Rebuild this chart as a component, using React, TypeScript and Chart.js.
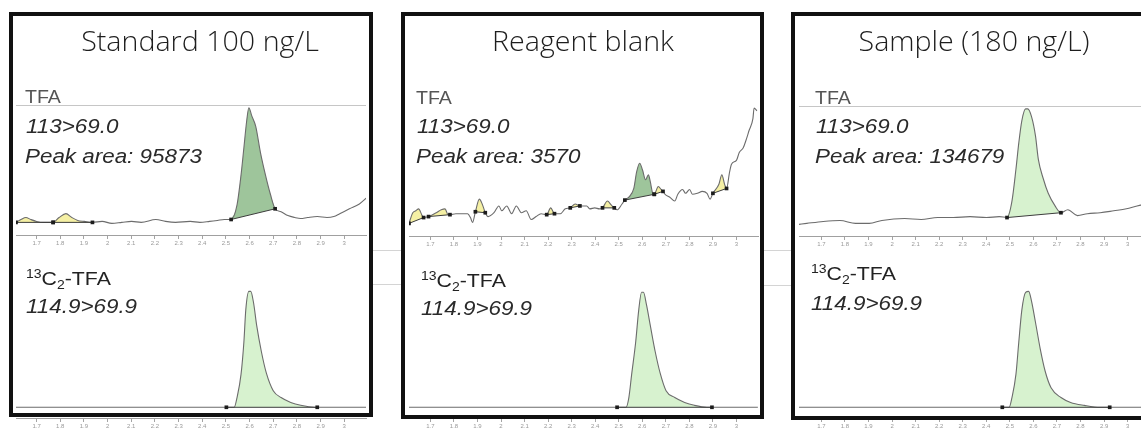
import React, { useEffect, useRef } from "react";
import { Chart, registerables } from "chart.js";

Chart.register(...registerables);

// ---------- data ----------
const tickValues = [1.7, 1.8, 1.9, 2.0, 2.1, 2.2, 2.3, 2.4, 2.5, 2.6, 2.7, 2.8, 2.9, 3.0];
const tickLabels = ["1.7", "1.8", "1.9", "2", "2.1", "2.2", "2.3", "2.4", "2.5", "2.6", "2.7", "2.8", "2.9", "3"];

const panelTitles = ["Standard 100 ng/L", "Reagent blank", "Sample (180 ng/L)"];
const analyteName = "TFA";
const analyteTransition = "113>69.0";
const istdTransition = "114.9>69.9";
const peakAreas = [95873, 3570, 134679];

type Peak = [number, number, string]; // [start min, end min, kind]

// Standard 100 ng/L – TFA 113>69.0
const stdTfaTime = [1.613, 1.634, 1.655, 1.675, 1.700, 1.729, 1.770, 1.795, 1.824, 1.849, 1.874, 1.902, 1.936, 1.977, 2.018, 2.060, 2.101, 2.142, 2.204, 2.245, 2.287, 2.349, 2.390, 2.431, 2.464, 2.493, 2.522, 2.547, 2.564, 2.576, 2.588, 2.597, 2.609, 2.626, 2.646, 2.667, 2.688, 2.708, 2.733, 2.762, 2.791, 2.816, 2.845, 2.886, 2.927, 2.956, 2.981, 3.022, 3.064, 3.093];
const stdTfaSignal = [13, 16, 18, 16, 14, 13, 13, 18, 22, 18, 15, 14, 13, 14, 12, 13, 14, 13, 16, 14, 13, 14, 13, 14, 15, 16, 16, 31, 62, 90, 118, 131, 123, 112, 85, 62, 42, 27, 24, 20, 18, 17, 18, 19, 18, 19, 22, 27, 32, 38];
const stdTfaPeaks: Peak[] = [[1.613, 1.770, "minor"], [1.770, 1.936, "minor"], [2.522, 2.708, "quant"]];

// Standard – 13C2-TFA 114.9>69.9
const stdIsTime = [1.613, 2.502, 2.535, 2.547, 2.564, 2.576, 2.584, 2.597, 2.605, 2.617, 2.630, 2.650, 2.671, 2.700, 2.733, 2.774, 2.816, 2.874, 2.886, 3.093];
const stdIsSignal = [0, 0, 0, 10, 34, 67, 100, 119, 119, 107, 84, 57, 35, 17, 10, 5, 2, 0, 0, 0];
const stdIsPeaks: Peak[] = [[2.502, 2.886, "light"]];

// Reagent blank – TFA
const blankTfaTime = [1.609, 1.625, 1.638, 1.650, 1.663, 1.671, 1.692, 1.725, 1.746, 1.762, 1.775, 1.783, 1.808, 1.837, 1.858, 1.870, 1.879, 1.891, 1.908, 1.920, 1.933, 1.945, 1.970, 1.991, 2.003, 2.024, 2.045, 2.065, 2.086, 2.107, 2.128, 2.149, 2.170, 2.194, 2.211, 2.227, 2.252, 2.273, 2.294, 2.315, 2.335, 2.364, 2.377, 2.398, 2.418, 2.431, 2.452, 2.468, 2.481, 2.493, 2.514, 2.526, 2.543, 2.564, 2.576, 2.589, 2.601, 2.614, 2.626, 2.634, 2.643, 2.651, 2.668, 2.680, 2.688, 2.697, 2.717, 2.738, 2.751, 2.771, 2.784, 2.801, 2.813, 2.834, 2.855, 2.875, 2.888, 2.900, 2.925, 2.938, 2.950, 2.958, 2.971, 2.979, 3.000, 3.012, 3.029, 3.041, 3.054, 3.070, 3.075, 3.087];
const blankTfaSignal = [13, 24, 26, 28, 22, 19, 20, 24, 27, 28, 22, 22, 23, 23, 23, 19, 14, 25, 38, 33, 24, 20, 24, 31, 26, 31, 23, 31, 24, 26, 17, 20, 23, 22, 29, 23, 23, 28, 29, 33, 31, 31, 28, 29, 28, 29, 36, 32, 29, 27, 33, 37, 40, 49, 66, 75, 68, 58, 63, 56, 45, 43, 51, 48, 46, 43, 40, 36, 43, 48, 44, 48, 43, 44, 46, 44, 38, 44, 53, 63, 53, 49, 66, 74, 78, 86, 91, 99, 109, 121, 132, 129];
const blankTfaPeaks: Peak[] = [[1.609, 1.671, "minor"], [1.692, 1.783, "minor"], [1.891, 1.933, "minor"], [2.194, 2.227, "minor"], [2.294, 2.335, "minor"], [2.431, 2.481, "minor"], [2.526, 2.651, "quant"], [2.651, 2.688, "minor"], [2.900, 2.958, "minor"]];

// Reagent blank – 13C2-TFA
const blankIsTime = [1.609, 2.493, 2.531, 2.543, 2.555, 2.572, 2.585, 2.597, 2.605, 2.618, 2.634, 2.655, 2.676, 2.701, 2.738, 2.780, 2.821, 2.875, 2.896, 3.091];
const blankIsSignal = [0, 0, 0, 10, 34, 67, 100, 118, 118, 105, 84, 57, 35, 17, 10, 5, 2, 0, 0, 0];
const blankIsPeaks: Peak[] = [[2.493, 2.896, "light"]];

// Sample – TFA
const sampleTfaTime = [1.605, 1.638, 1.708, 1.779, 1.845, 1.903, 1.957, 2.053, 2.123, 2.194, 2.260, 2.331, 2.401, 2.455, 2.488, 2.509, 2.526, 2.538, 2.551, 2.567, 2.576, 2.592, 2.609, 2.621, 2.642, 2.663, 2.692, 2.717, 2.746, 2.787, 2.829, 2.883, 2.941, 2.995, 3.040, 3.078];
const sampleTfaSignal = [12, 13, 15, 16, 13, 13, 16, 18, 17, 19, 19, 20, 19, 20, 19, 36, 69, 96, 119, 131, 131, 123, 103, 79, 59, 44, 31, 24, 27, 21, 23, 24, 26, 28, 31, 33];
const sampleTfaPeaks: Peak[] = [[2.488, 2.717, "light"]];

// Sample – 13C2-TFA
const sampleIsTime = [1.605, 2.468, 2.497, 2.509, 2.526, 2.538, 2.551, 2.567, 2.580, 2.592, 2.609, 2.629, 2.650, 2.675, 2.717, 2.758, 2.816, 2.883, 2.924, 3.078];
const sampleIsSignal = [0, 0, 0, 10, 34, 67, 100, 118, 119, 109, 87, 60, 37, 20, 10, 5, 2, 0, 0, 0];
const sampleIsPeaks: Peak[] = [[2.468, 2.924, "light"]];

// ---------- styling ----------
const fillColors: Record<string, string> = {
  minor: "#f5f0a4",
  quant: "#9ec59b",
  light: "#d7f2cf",
};
const TEXT_FONT = '"Liberation Sans", Arial, sans-serif';

const frameLinePlugin = {
  id: "frameLine",
  beforeDatasetsDraw(chart: any, _args: any, opts: any) {
    if (!opts || !opts.show) return;
    const { ctx, chartArea } = chart;
    ctx.save();
    ctx.strokeStyle = "#c6c6c6";
    ctx.lineWidth = 1;
    ctx.beginPath();
    ctx.moveTo(chartArea.left, chartArea.top + 0.5);
    ctx.lineTo(chartArea.right, chartArea.top + 0.5);
    ctx.stroke();
    ctx.restore();
  },
};

type ChromProps = {
  left: number;
  top: number;
  width: number;
  xMin: number;
  xMax: number;
  yMin: number;
  yMax: number;
  time: number[];
  signal: number[];
  peaks: Peak[];
  frame?: boolean;
};

const AXIS_H = 16;

function Chromatogram(p: ChromProps) {
  const ref = useRef<HTMLCanvasElement>(null);
  const height = p.yMax - p.yMin + AXIS_H;
  useEffect(() => {
    if (!ref.current) return;
    const trace = p.time.map((t, i) => ({ x: t, y: p.signal[i] }));
    const datasets: any[] = [];
    p.peaks.forEach(([s, e, kind]) => {
      const pts = trace.filter((pt) => pt.x >= s - 1e-9 && pt.x <= e + 1e-9);
      datasets.push({
        data: pts,
        fill: "shape",
        backgroundColor: fillColors[kind],
        borderColor: "rgba(0,0,0,0)",
        borderWidth: 1,
        pointRadius: 0,
        cubicInterpolationMode: "monotone",
        order: 6,
      });
      datasets.push({
        data: [pts[0], pts[pts.length - 1]],
        fill: false,
        borderColor: "#3c3c3c",
        borderWidth: 1,
        pointRadius: 2.6,
        pointStyle: "rect",
        pointBackgroundColor: "#1c1c1c",
        pointBorderColor: "#1c1c1c",
        pointBorderWidth: 0,
        order: 1,
      });
    });
    datasets.push({
      data: trace,
      fill: false,
      borderColor: "#6c6c6c",
      borderWidth: 1.1,
      pointRadius: 0,
      cubicInterpolationMode: "monotone",
      order: 3,
    });
    const chart = new Chart(ref.current, {
      type: "line",
      data: { datasets },
      plugins: [frameLinePlugin],
      options: {
        animation: false,
        responsive: false,
        devicePixelRatio: 1,
        events: [],
        layout: { padding: 0 },
        parsing: false,
        plugins: {
          legend: { display: false },
          tooltip: { enabled: false },
          frameLine: { show: !!p.frame },
        } as any,
        scales: {
          x: {
            type: "linear",
            min: p.xMin,
            max: p.xMax,
            afterBuildTicks: (scale: any) => {
              scale.ticks = tickValues.map((v) => ({ value: v }));
            },
            afterFit: (scale: any) => {
              scale.height = AXIS_H;
            },
            ticks: {
              autoSkip: false,
              maxRotation: 0,
              minRotation: 0,
              padding: 1,
              color: "#999999",
              font: { size: 6, family: TEXT_FONT },
              callback: (_v: any, i: number) => tickLabels[i],
            },
            grid: {
              drawOnChartArea: false,
              drawTicks: true,
              tickLength: 4,
              color: "#a4a4a4",
            },
            border: { display: true, color: "#a0a0a0", width: 1 },
          },
          y: { display: false, min: p.yMin, max: p.yMax },
        },
      } as any,
    });
    return () => chart.destroy();
  }, []);
  return (
    <canvas
      ref={ref}
      width={p.width}
      height={height}
      style={{ position: "absolute", left: p.left, top: p.top, width: p.width, height }}
    />
  );
}

function Txt(props: { x: number; base: number; size: number; italic?: boolean; color?: string; children: any }) {
  return (
    <div
      style={{
        position: "absolute",
        left: props.x,
        top: props.base - 0.8465 * props.size,
        fontFamily: TEXT_FONT,
        fontSize: props.size,
        lineHeight: 1,
        fontStyle: props.italic ? "italic" : "normal",
        color: props.color || "#2a2a2a",
        whiteSpace: "nowrap",
        transform: "scaleX(1.12)",
        transformOrigin: "left center",
      }}
    >
      {props.children}
    </div>
  );
}

function IstdLabel(props: { x: number; base: number }) {
  return (
    <Txt x={props.x} base={props.base} size={19} color="#222">
      <span style={{ fontSize: 12.5, position: "relative", top: -7 }}>13</span>C
      <span style={{ fontSize: 12.5, position: "relative", top: 4 }}>2</span>-{analyteName}
    </Txt>
  );
}

export default function App() {
  const upperY = { yMin: 0, yMax: 134 };
  const lowerY = { yMin: -11, yMax: 145 };
  const cols = [
    { left: 12, width: 358, xMin: 1.613, xMax: 3.092, upTop: 101, box: [9, 12, 364, 405], titleCx: 200, txt: 25, lowBase: [285, 313], upBase: 104 },
    { left: 405, width: 357, xMin: 1.609, xMax: 3.0916, upTop: 102, box: [401, 12, 363, 407], titleCx: 583, txt: 416, lowBase: [287, 315], upBase: 105 },
    { left: 795, width: 355, xMin: 1.605, xMax: 3.078, upTop: 102, box: [791, 12, 366, 408], titleCx: 974, txt: 815, lowBase: [280, 310], upBase: 105 },
  ];
  const upperData = [
    { time: stdTfaTime, signal: stdTfaSignal, peaks: stdTfaPeaks, frame: true },
    { time: blankTfaTime, signal: blankTfaSignal, peaks: blankTfaPeaks, frame: false },
    { time: sampleTfaTime, signal: sampleTfaSignal, peaks: sampleTfaPeaks, frame: true },
  ];
  const lowerData = [
    { time: stdIsTime, signal: stdIsSignal, peaks: stdIsPeaks },
    { time: blankIsTime, signal: blankIsSignal, peaks: blankIsPeaks },
    { time: sampleIsTime, signal: sampleIsSignal, peaks: sampleIsPeaks },
  ];
  const lowX = [26, 421, 811];
  const TITLE_SIZE = 27;

  return (
    <div
      style={{
        position: "absolute",
        left: 0,
        top: 0,
        width: 1141,
        height: 430,
        overflow: "hidden",
        background: "#ffffff",
      }}
    >
      {/* faint leftover frame lines between panels */}
      {[[373, 250, 28], [373, 284, 28], [764, 250, 27], [764, 285, 27]].map(([x, y, w], i) => (
        <div key={"g" + i} style={{ position: "absolute", left: x, top: y, width: w, height: 1, background: "#d4d4d4" }} />
      ))}

      {cols.map((c, i) => (
        <React.Fragment key={"c" + i}>
          <Chromatogram
            left={c.left}
            top={c.upTop}
            width={c.width}
            xMin={c.xMin}
            xMax={c.xMax}
            {...upperY}
            {...upperData[i]}
          />
          <Chromatogram
            left={c.left}
            top={262}
            width={c.width}
            xMin={c.xMin}
            xMax={c.xMax}
            {...lowerY}
            {...lowerData[i]}
          />
        </React.Fragment>
      ))}

      {cols.map((c, i) => (
        <div
          key={"b" + i}
          style={{
            position: "absolute",
            left: c.box[0],
            top: c.box[1],
            width: c.box[2],
            height: c.box[3],
            border: "4px solid #111",
            boxSizing: "border-box",
          }}
        />
      ))}

      {cols.map((c, i) => (
        <div
          key={"t" + i}
          style={{
            position: "absolute",
            left: c.titleCx - 200,
            width: 400,
            top: 51 - 0.888 * TITLE_SIZE,
            textAlign: "center",
            fontFamily: '"Open Sans", sans-serif',
            fontSize: TITLE_SIZE,
            fontWeight: 300,
            lineHeight: 1,
            color: "#1e1e1e",
            whiteSpace: "nowrap",
            transform: "scaleX(1.06)",
            transformOrigin: "center center",
          }}
        >
          {panelTitles[i]}
        </div>
      ))}

      {cols.map((c, i) => (
        <React.Fragment key={"l" + i}>
          <Txt x={c.txt} base={c.upBase} size={17.5} color="#555">
            {analyteName}
          </Txt>
          <Txt x={c.txt + 1} base={133} size={20} italic>
            {analyteTransition}
          </Txt>
          <Txt x={c.txt} base={163} size={20} italic>
            {"Peak area: " + peakAreas[i]}
          </Txt>
          <IstdLabel x={lowX[i]} base={c.lowBase[0]} />
          <Txt x={lowX[i]} base={c.lowBase[1]} size={20} italic>
            {istdTransition}
          </Txt>
        </React.Fragment>
      ))}
    </div>
  );
}
